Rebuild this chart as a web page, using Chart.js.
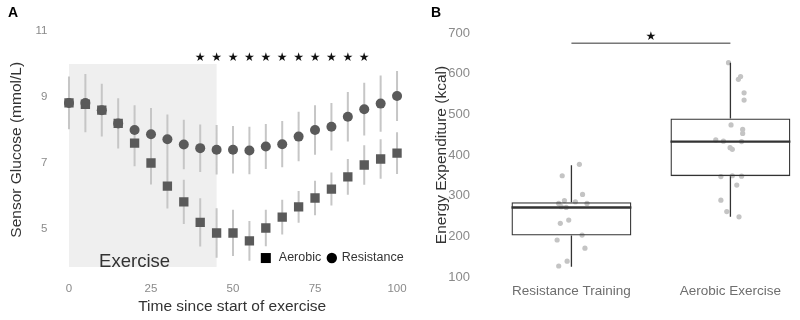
<!DOCTYPE html>
<html>
<head>
<meta charset="utf-8">
<script src="https://cdn.jsdelivr.net/npm/chart.js@4.4.1/dist/chart.umd.min.js"></script>
<style>
  html, body { margin: 0; padding: 0; background: #fff; }
  #wrap { position: relative; width: 800px; height: 320px; }
  #glucose { position: absolute; left: 0; top: 0; }
  #energy { position: absolute; left: 420px; top: 0; }
</style>
</head>
<body>
<div id="wrap">
  <canvas id="glucose" width="420" height="320"></canvas>
  <canvas id="energy" width="380" height="320"></canvas>
</div>
<script>
// Panel A: sensor glucose over time (mean +/- SD)
const minutes = [0, 5, 10, 15, 20, 25, 30, 35, 40, 45, 50, 55, 60, 65, 70, 75, 80, 85, 90, 95, 100];
const aerobicMean = [8.82, 8.78, 8.6, 8.2, 7.6, 7.0, 6.3, 5.82, 5.2, 4.88, 4.88, 4.64, 5.03, 5.36, 5.67, 5.94, 6.21, 6.58, 6.94, 7.12, 7.3];
const aerobicSd = [0.8, 0.85, 0.8, 0.75, 0.7, 0.65, 0.68, 0.67, 0.73, 0.75, 0.7, 0.6, 0.55, 0.53, 0.48, 0.52, 0.5, 0.54, 0.6, 0.6, 0.63];
const resistanceMean = [8.82, 8.82, 8.6, 8.2, 8.0, 7.87, 7.72, 7.56, 7.45, 7.4, 7.4, 7.38, 7.5, 7.57, 7.8, 8.0, 8.1, 8.4, 8.63, 8.8, 9.03];
const resistanceSd = [0.8, 0.88, 0.8, 0.76, 0.75, 0.8, 0.75, 0.75, 0.72, 0.75, 0.72, 0.72, 0.68, 0.7, 0.75, 0.75, 0.72, 0.75, 0.8, 0.85, 0.76];
const sigMinutes = [40, 45, 50, 55, 60, 65, 70, 75, 80, 85, 90];
const exerciseWindow = [0, 45];
const glucoseTicks = [5, 7, 9, 11];
const timeTicks = [0, 25, 50, 75, 100];

// Panel B: energy expenditure box plots
const groups = ['Resistance Training', 'Aerobic Exercise'];
const boxMin = [125, 248];
const boxQ1 = [202, 348];
const boxMedian = [271, 433];
const boxQ3 = [284, 490];
const boxMax = [375, 627];
const resistanceKcal = [377, 349, 303, 285, 281, 288, 281, 273, 271, 240, 232, 203, 191, 171, 139, 127];
const resistanceJitter = [0.05, -0.058, 0.07, 0.025, 0.098, -0.044, -0.08, -0.064, -0.033, -0.017, -0.07, 0.067, -0.09, 0.085, -0.027, -0.08];
const aerobicKcal = [627, 586, 593, 553, 535, 474, 463, 453, 437, 434, 433, 418, 414, 347, 349, 348, 326, 289, 261, 248];
const aerobicJitter = [-0.012, 0.05, 0.064, 0.086, 0.086, 0.004, 0.077, 0.077, -0.092, -0.044, 0.07, -0.002, 0.012, -0.06, 0.012, 0.07, 0.04, -0.06, -0.023, 0.054];
const sigBarKcal = 675;

const FONT = "'Liberation Sans', Arial, sans-serif";
Chart.defaults.font.family = FONT;
Chart.defaults.devicePixelRatio = 1;

const markColor = '#5a5a5a';
const tickColor = '#8a8a8a';
const textColor = '#333333';

const glucoseDecor = {
    id: 'glucoseDecor',
    beforeDatasetsDraw(chart) {
        const { ctx, scales: { x, y } } = chart;
        ctx.save();
        // shaded exercise period
        const x0 = x.getPixelForValue(exerciseWindow[0]);
        const x1 = x.getPixelForValue(exerciseWindow[1]);
        const yTop = y.getPixelForValue(10.0);
        const yBot = y.getPixelForValue(3.85);
        ctx.fillStyle = '#efefef';
        ctx.fillRect(x0, yTop, x1 - x0, yBot - yTop);
        ctx.fillStyle = textColor;
        ctx.font = `18.5px ${FONT}`;
        ctx.textAlign = 'center';
        ctx.textBaseline = 'middle';
        ctx.fillText('Exercise', x.getPixelForValue(20), y.getPixelForValue(4.0));
        // error bars
        ctx.strokeStyle = '#c6c6c6';
        ctx.lineWidth = 2;
        ctx.beginPath();
        [[aerobicMean, aerobicSd], [resistanceMean, resistanceSd]].forEach(([mean, sd]) => {
            minutes.forEach((t, i) => {
                const px = x.getPixelForValue(t);
                ctx.moveTo(px, y.getPixelForValue(mean[i] - sd[i]));
                ctx.lineTo(px, y.getPixelForValue(mean[i] + sd[i]));
            });
        });
        ctx.stroke();
        ctx.restore();
    },
    afterDatasetsDraw(chart) {
        const { ctx, scales: { x, y } } = chart;
        ctx.save();
        // significance stars
        ctx.fillStyle = '#111';
        ctx.font = `12px 'DejaVu Sans'`;
        ctx.textAlign = 'center';
        ctx.textBaseline = 'middle';
        sigMinutes.forEach(t => ctx.fillText('\u2605', x.getPixelForValue(t), y.getPixelForValue(10.18)));
        // legend
        const lx = x.getPixelForValue(60);
        const ly = y.getPixelForValue(4.12);
        ctx.fillStyle = '#000';
        ctx.fillRect(lx - 5, ly - 5, 10, 10);
        ctx.beginPath();
        ctx.arc(lx + 66, ly, 5.2, 0, Math.PI * 2);
        ctx.fill();
        ctx.fillStyle = textColor;
        ctx.font = `12.5px ${FONT}`;
        ctx.textAlign = 'left';
        ctx.fillText('Aerobic', lx + 13, ly);
        ctx.fillText('Resistance', lx + 76, ly);
        // panel letter
        ctx.font = `bold 14px ${FONT}`;
        ctx.fillStyle = '#000';
        ctx.textAlign = 'center';
        ctx.fillText('A', 13, 13);
        ctx.restore();
    }
};

new Chart(document.getElementById('glucose'), {
    type: 'scatter',
    plugins: [glucoseDecor],
    data: {
        datasets: [
            {
                label: 'Aerobic',
                data: minutes.map((t, i) => ({ x: t, y: aerobicMean[i] })),
                pointStyle: 'rect',
                pointRadius: 6.6,
                backgroundColor: markColor,
                borderColor: markColor,
                borderWidth: 0
            },
            {
                label: 'Resistance',
                data: minutes.map((t, i) => ({ x: t, y: resistanceMean[i] })),
                pointStyle: 'circle',
                pointRadius: 5,
                backgroundColor: markColor,
                borderColor: markColor,
                borderWidth: 0
            }
        ]
    },
    options: {
        responsive: false,
        animation: false,
        layout: { padding: { top: 31, right: 13, left: 0, bottom: 0 } },
        plugins: { legend: { display: false }, tooltip: { enabled: false } },
        scales: {
            x: {
                type: 'linear',
                min: -3.5,
                max: 103,
                grid: { display: false, drawTicks: false },
                border: { display: false },
                afterBuildTicks: axis => { axis.ticks = timeTicks.map(v => ({ value: v })); },
                afterFit: axis => { axis.height = 51.4; },
                ticks: { color: tickColor, font: { size: 11.5 }, padding: 13 },
                title: {
                    display: true,
                    text: 'Time since start of exercise',
                    color: textColor,
                    font: { size: 15.5 },
                    padding: { top: 4, bottom: 4 }
                }
            },
            y: {
                min: 3.8,
                max: 11,
                grid: { display: false, drawTicks: false },
                border: { display: false },
                afterBuildTicks: axis => { axis.ticks = glucoseTicks.map(v => ({ value: v })); },
                afterFit: axis => { axis.width = 57.5; },
                ticks: { color: tickColor, font: { size: 11.5 }, padding: 10 },
                title: {
                    display: true,
                    text: 'Sensor Glucose (mmol/L)',
                    color: textColor,
                    font: { size: 15.5 },
                    padding: { top: 7, bottom: 7 }
                }
            }
        }
    }
});

const boxDecor = {
    id: 'boxDecor',
    afterDatasetsDraw(chart) {
        const { ctx, scales: { x, y } } = chart;
        const boxes = chart.getDatasetMeta(2).data;
        ctx.save();
        ctx.strokeStyle = textColor;
        ctx.lineWidth = 1.3;
        ctx.beginPath();
        groups.forEach((g, i) => {
            const px = x.getPixelForValue(i);
            ctx.moveTo(px, y.getPixelForValue(boxQ3[i]));
            ctx.lineTo(px, y.getPixelForValue(boxMax[i]));
            ctx.moveTo(px, y.getPixelForValue(boxQ1[i]));
            ctx.lineTo(px, y.getPixelForValue(boxMin[i]));
        });
        ctx.stroke();
        // medians
        ctx.lineWidth = 2.4;
        ctx.beginPath();
        boxes.forEach((bar, i) => {
            const my = y.getPixelForValue(boxMedian[i]);
            ctx.moveTo(bar.x - bar.width / 2, my);
            ctx.lineTo(bar.x + bar.width / 2, my);
        });
        ctx.stroke();
        // significance bracket
        const sy = y.getPixelForValue(sigBarKcal);
        ctx.lineWidth = 1;
        ctx.beginPath();
        ctx.moveTo(x.getPixelForValue(0), sy);
        ctx.lineTo(x.getPixelForValue(1), sy);
        ctx.stroke();
        ctx.fillStyle = '#111';
        ctx.font = `12px 'DejaVu Sans'`;
        ctx.textAlign = 'center';
        ctx.textBaseline = 'middle';
        ctx.fillText('\u2605', x.getPixelForValue(0.5), sy - 6);
        // panel letter
        ctx.font = `bold 14px ${FONT}`;
        ctx.fillStyle = '#000';
        ctx.fillText('B', 16, 13);
        ctx.restore();
    }
};

const jitterStyle = {
    type: 'scatter',
    pointRadius: 2.6,
    backgroundColor: '#c4c4c4',
    borderColor: '#c4c4c4',
    borderWidth: 0,
    order: 1
};

new Chart(document.getElementById('energy'), {
    type: 'bar',
    plugins: [boxDecor],
    data: {
        datasets: [
            { ...jitterStyle, label: groups[0], data: resistanceKcal.map((v, i) => ({ x: 0 + resistanceJitter[i], y: v })) },
            { ...jitterStyle, label: groups[1], data: aerobicKcal.map((v, i) => ({ x: 1 + aerobicJitter[i], y: v })) },
            {
                type: 'bar',
                label: 'IQR',
                data: groups.map((g, i) => ({ x: i, y: [boxQ1[i], boxQ3[i]] })),
                backgroundColor: 'rgba(255,255,255,0)',
                borderColor: textColor,
                borderWidth: 1.3,
                borderSkipped: false,
                barPercentage: 1,
                categoryPercentage: 0.754,
                order: 0
            }
        ]
    },
    options: {
        responsive: false,
        animation: false,
        layout: { padding: { top: 33, right: 2, left: 0, bottom: 0 } },
        plugins: { legend: { display: false }, tooltip: { enabled: false } },
        scales: {
            x: {
                type: 'linear',
                offset: false,
                min: -0.5625,
                max: 1.4125,
                grid: { display: false, drawTicks: false, offset: false },
                border: { display: false },
                afterBuildTicks: axis => { axis.ticks = groups.map((g, i) => ({ value: i })); },
                afterFit: axis => {
                    axis.height = 43;
                    axis.paddingLeft = 0;
                    axis.paddingRight = 0;
                },
                ticks: { color: '#6e6e6e', font: { size: 13.5 }, padding: 6, maxRotation: 0, autoSkip: false, callback: v => groups[v] }
            },
            y: {
                min: 100,
                max: 700,
                grid: { display: false, drawTicks: false },
                border: { display: false },
                afterFit: axis => { axis.width = 62; },
                ticks: { color: tickColor, font: { size: 13 }, padding: 12, stepSize: 100 },
                title: {
                    display: true,
                    text: 'Energy Expenditure (kcal)',
                    color: textColor,
                    font: { size: 15.5 },
                    padding: { top: 12, bottom: 12 }
                }
            }
        }
    }
});
</script>
</body>
</html>
